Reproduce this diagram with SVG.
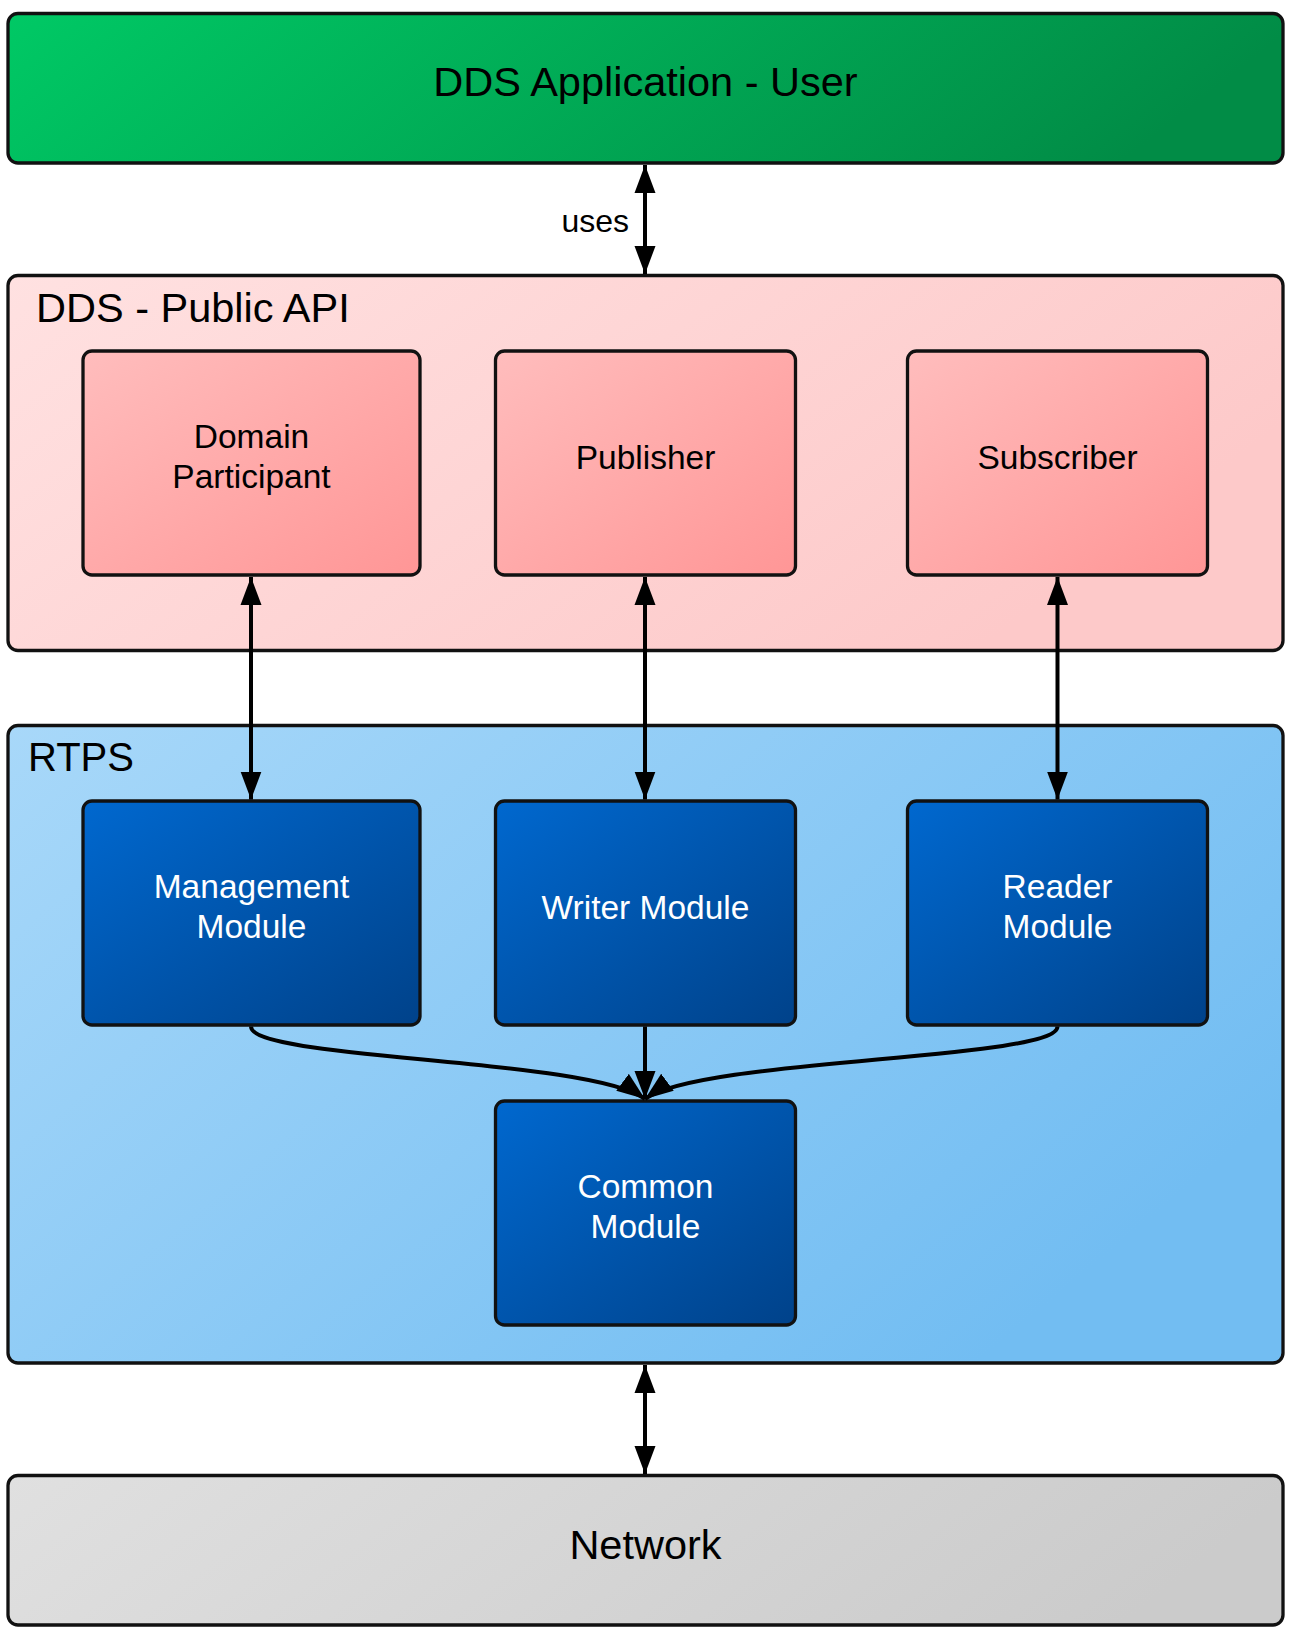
<svg xmlns="http://www.w3.org/2000/svg" width="1293" height="1639" viewBox="0 0 1293 1639">
<defs>
<linearGradient id="gGreen" x1="0" y1="0" x2="1" y2="0.15">
<stop offset="0" stop-color="#00C965"/><stop offset="1" stop-color="#018C46"/>
</linearGradient>
<linearGradient id="gPinkOuter" x1="0" y1="0" x2="1" y2="0.4">
<stop offset="0" stop-color="#FFE1E1"/><stop offset="1" stop-color="#FDC9C9"/>
</linearGradient>
<linearGradient id="gPinkNode" x1="0" y1="0" x2="1" y2="1">
<stop offset="0" stop-color="#FFBDBD"/><stop offset="1" stop-color="#FF9696"/>
</linearGradient>
<linearGradient id="gBlueOuter" x1="0" y1="0" x2="1" y2="0.6">
<stop offset="0" stop-color="#A8D8F9"/><stop offset="1" stop-color="#72BDF2"/>
</linearGradient>
<linearGradient id="gBlueNode" x1="0" y1="0" x2="1" y2="1">
<stop offset="0" stop-color="#0068CF"/><stop offset="1" stop-color="#00428A"/>
</linearGradient>
<linearGradient id="gGray" x1="0" y1="0" x2="1" y2="0.15">
<stop offset="0" stop-color="#E0E0E0"/><stop offset="1" stop-color="#CBCBCB"/>
</linearGradient>
<marker id="arr" markerUnits="userSpaceOnUse" markerWidth="30" markerHeight="24" refX="28" refY="11" orient="auto-start-reverse" viewBox="0 0 30 24">
<path d="M0,0.5 L28,11 L0,21.5 z" fill="#000"/>
</marker>
</defs>
<style>
.box{stroke:#111;stroke-width:3.3}
.t{font-family:"Liberation Sans",Arial,sans-serif;text-anchor:middle}
.big{font-size:41.5px;fill:#000}
.mid{font-size:33.5px}
.k{fill:#000}
.w{fill:#fff}
.c{fill:none;stroke:#000;stroke-width:4}
</style>

<g id="app">
<rect class="box" x="8" y="13.5" width="1275" height="149.5" rx="10" fill="url(#gGreen)"/>
<text class="t big" x="645.5" y="96">DDS Application - User</text>
</g>

<g id="publicapi">
<rect class="box" x="8" y="275.5" width="1275" height="375" rx="10" fill="url(#gPinkOuter)"/>
<text class="big" style="font-family:'Liberation Sans',Arial,sans-serif;font-size:41.5px" x="36" y="322">DDS - Public API</text>
</g>

<g id="domainparticipant">
<rect class="box" x="83" y="351" width="337" height="224" rx="9" fill="url(#gPinkNode)"/>
<text class="t mid k" x="251.5" y="448">Domain</text>
<text class="t mid k" x="251.5" y="488">Participant</text>
</g>

<g id="publisher">
<rect class="box" x="495.5" y="351" width="300" height="224" rx="9" fill="url(#gPinkNode)"/>
<text class="t mid k" x="645.5" y="469">Publisher</text>
</g>

<g id="subscriber">
<rect class="box" x="907.5" y="351" width="300" height="224" rx="9" fill="url(#gPinkNode)"/>
<text class="t mid k" x="1057.5" y="469">Subscriber</text>
</g>

<g id="rtps">
<rect class="box" x="8" y="725.5" width="1275" height="637.5" rx="10" fill="url(#gBlueOuter)"/>
<text class="big" style="font-family:'Liberation Sans',Arial,sans-serif;font-size:40px" x="28" y="771">RTPS</text>
</g>

<g id="management">
<rect class="box" x="83" y="801" width="337" height="224" rx="9" fill="url(#gBlueNode)"/>
<text class="t mid w" x="251.5" y="898">Management</text>
<text class="t mid w" x="251.5" y="938">Module</text>
</g>

<g id="writer">
<rect class="box" x="495.5" y="801" width="300" height="224" rx="9" fill="url(#gBlueNode)"/>
<text class="t mid w" x="645.5" y="919">Writer Module</text>
</g>

<g id="reader">
<rect class="box" x="907.5" y="801" width="300" height="224" rx="9" fill="url(#gBlueNode)"/>
<text class="t mid w" x="1057.5" y="898">Reader</text>
<text class="t mid w" x="1057.5" y="938">Module</text>
</g>

<g id="common">
<rect class="box" x="495.5" y="1101" width="300" height="224" rx="9" fill="url(#gBlueNode)"/>
<text class="t mid w" x="645.5" y="1198">Common</text>
<text class="t mid w" x="645.5" y="1238">Module</text>
</g>

<g id="network">
<rect class="box" x="8" y="1475.5" width="1275" height="149.5" rx="10" fill="url(#gGray)"/>
<text class="t big" x="645.5" y="1559">Network</text>
</g>

<g id="connectors">
<line class="c" x1="645" y1="165" x2="645" y2="274" marker-start="url(#arr)" marker-end="url(#arr)"/>
<text style="font-family:'Liberation Sans',Arial,sans-serif;font-size:32px;text-anchor:end" x="629" y="232">uses</text>
<line class="c" x1="251" y1="577" x2="251" y2="799.5" marker-start="url(#arr)" marker-end="url(#arr)"/>
<line class="c" x1="645" y1="577" x2="645" y2="799.5" marker-start="url(#arr)" marker-end="url(#arr)"/>
<line class="c" x1="1057.5" y1="577" x2="1057.5" y2="799.5" marker-start="url(#arr)" marker-end="url(#arr)"/>
<line class="c" x1="645" y1="1026.5" x2="645" y2="1099" marker-end="url(#arr)"/>
<path class="c" d="M251,1026.5 C251,1060 590,1058 645,1099" marker-end="url(#arr)"/>
<path class="c" d="M1057.5,1026.5 C1057.5,1060 700,1058 645,1099" marker-end="url(#arr)"/>
<line class="c" x1="645" y1="1365" x2="645" y2="1474" marker-start="url(#arr)" marker-end="url(#arr)"/>
</g>
</svg>
